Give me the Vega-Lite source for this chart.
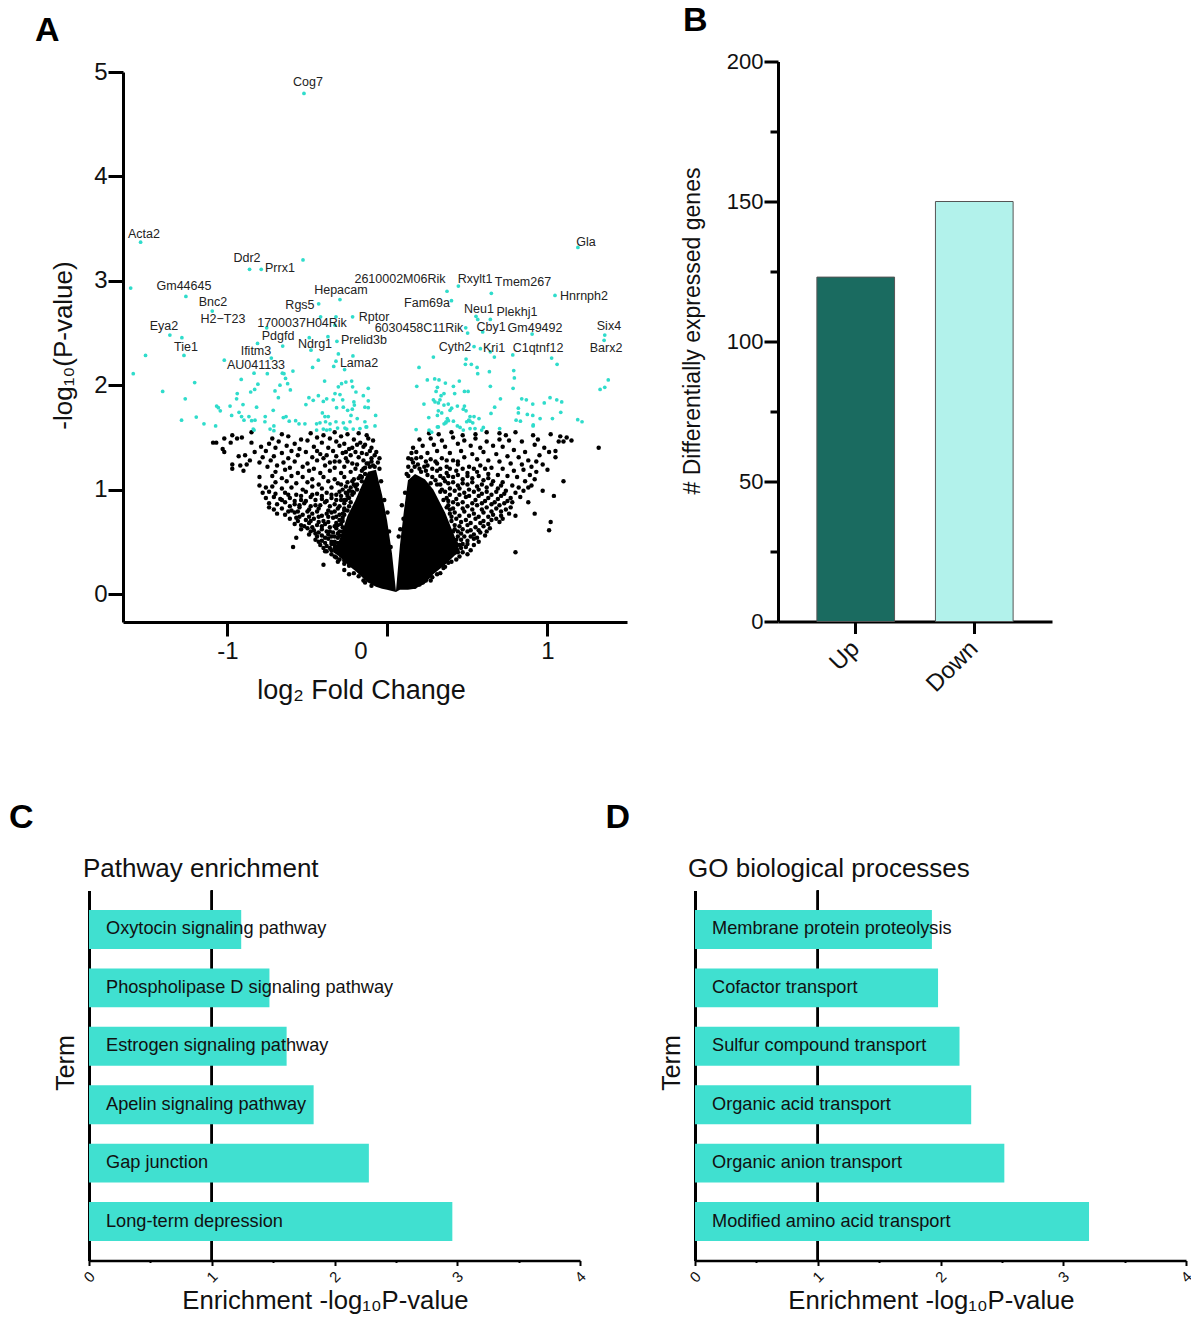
{"$schema":"https://vega.github.io/schema/vega-lite/v6.json","background":"white","padding":{"left":9,"top":3.5,"right":5,"bottom":0},
"config":{"font":"Liberation Sans","view":{"stroke":null},"axis":{"grid":false,"domainColor":"black","tickColor":"black","labelColor":"#111","titleColor":"#111","labelFont":"Liberation Sans","titleFont":"Liberation Sans","titleFontWeight":"normal"},"title":{"font":"Liberation Sans","color":"black"}},
"datasets":{
"core":[{"side":"L","x":-0.34,"top":0.42,"bottom":0.40},{"side":"L","x":-0.3,"top":0.52,"bottom":0.36},{"side":"L","x":-0.25,"top":0.75,"bottom":0.28},{"side":"L","x":-0.2,"top":0.9,"bottom":0.22},{"side":"L","x":-0.172,"top":1.0,"bottom":0.18},{"side":"L","x":-0.122,"top":1.17,"bottom":0.11},{"side":"L","x":-0.072,"top":1.19,"bottom":0.07},{"side":"L","x":-0.034,"top":0.95,"bottom":0.05},{"side":"L","x":-0.003,"top":0.71,"bottom":0.04},{"side":"L","x":0.028,"top":0.39,"bottom":0.03},{"side":"L","x":0.053,"top":0.03,"bottom":0.02},{"side":"R","x":0.053,"top":0.03,"bottom":0.02},{"side":"R","x":0.078,"top":0.47,"bottom":0.04},{"side":"R","x":0.103,"top":0.8,"bottom":0.04},{"side":"R","x":0.128,"top":1.09,"bottom":0.04},{"side":"R","x":0.172,"top":1.15,"bottom":0.05},{"side":"R","x":0.234,"top":1.1,"bottom":0.1},{"side":"R","x":0.286,"top":1.0,"bottom":0.19},{"side":"R","x":0.36,"top":0.78,"bottom":0.28},{"side":"R","x":0.42,"top":0.55,"bottom":0.37},{"side":"R","x":0.45,"top":0.42,"bottom":0.4}],
"black":[{"x":-0.85,"y":1.55},{"x":-0.66,"y":1.53},{"x":-0.48,"y":1.54},{"x":-0.4,"y":1.52},{"x":-0.33,"y":1.55},{"x":-0.25,"y":1.53},{"x":-0.18,"y":1.54},{"x":-0.13,"y":1.52},{"x":-1.02,"y":1.49},{"x":-0.97,"y":1.52},{"x":-0.94,"y":1.49},{"x":-0.91,"y":1.5},{"x":-0.72,"y":1.49},{"x":-0.62,"y":1.51},{"x":-0.54,"y":1.48},{"x":-0.44,"y":1.5},{"x":-0.36,"y":1.49},{"x":-0.29,"y":1.51},{"x":-0.21,"y":1.48},{"x":-0.12,"y":1.49},{"x":-1.09,"y":1.45},{"x":-1.07,"y":1.45},{"x":-0.98,"y":1.45},{"x":-0.85,"y":1.45},{"x":-0.74,"y":1.44},{"x":-0.68,"y":1.46},{"x":-0.58,"y":1.44},{"x":-0.5,"y":1.47},{"x":-0.41,"y":1.45},{"x":-0.32,"y":1.46},{"x":-0.27,"y":1.44},{"x":-0.17,"y":1.45},{"x":-0.09,"y":1.47},{"x":-1.03,"y":1.39},{"x":-1.02,"y":1.36},{"x":-0.79,"y":1.41},{"x":-0.7,"y":1.4},{"x":-0.63,"y":1.42},{"x":-0.55,"y":1.39},{"x":-0.46,"y":1.41},{"x":-0.37,"y":1.4},{"x":-0.3,"y":1.42},{"x":-0.24,"y":1.39},{"x":-0.15,"y":1.41},{"x":-0.1,"y":1.4},{"x":-0.83,"y":1.36},{"x":-0.76,"y":1.37},{"x":-0.66,"y":1.35},{"x":-0.6,"y":1.37},{"x":-0.51,"y":1.36},{"x":-0.42,"y":1.34},{"x":-0.34,"y":1.37},{"x":-0.28,"y":1.35},{"x":-0.2,"y":1.36},{"x":-0.13,"y":1.34},{"x":-0.07,"y":1.36},{"x":-0.93,"y":1.32},{"x":-0.89,"y":1.33},{"x":-0.78,"y":1.31},{"x":-0.71,"y":1.32},{"x":-0.62,"y":1.3},{"x":-0.56,"y":1.33},{"x":-0.47,"y":1.31},{"x":-0.4,"y":1.3},{"x":-0.32,"y":1.32},{"x":-0.26,"y":1.3},{"x":-0.18,"y":1.31},{"x":-0.1,"y":1.3},{"x":-0.86,"y":1.28},{"x":-0.8,"y":1.26},{"x":-0.73,"y":1.28},{"x":-0.65,"y":1.26},{"x":-0.58,"y":1.27},{"x":-0.5,"y":1.25},{"x":-0.44,"y":1.28},{"x":-0.36,"y":1.26},{"x":-0.3,"y":1.27},{"x":-0.22,"y":1.25},{"x":-0.97,"y":1.24},{"x":-0.97,"y":1.2},{"x":-0.92,"y":1.23},{"x":-0.88,"y":1.24},{"x":-0.75,"y":1.22},{"x":-0.69,"y":1.23},{"x":-0.61,"y":1.21},{"x":-0.53,"y":1.22},{"x":-0.46,"y":1.2},{"x":-0.39,"y":1.23},{"x":-0.33,"y":1.21},{"x":-0.27,"y":1.22},{"x":-0.2,"y":1.2},{"x":-0.9,"y":1.18},{"x":-0.7,"y":1.17},{"x":-0.64,"y":1.19},{"x":-0.56,"y":1.16},{"x":-0.49,"y":1.18},{"x":-0.42,"y":1.16},{"x":-0.36,"y":1.18},{"x":-0.29,"y":1.16},{"x":-0.23,"y":1.17},{"x":-0.16,"y":1.18},{"x":-0.8,"y":1.12},{"x":-0.72,"y":1.13},{"x":-0.66,"y":1.11},{"x":-0.6,"y":1.13},{"x":-0.53,"y":1.12},{"x":-0.47,"y":1.1},{"x":-0.4,"y":1.12},{"x":-0.33,"y":1.1},{"x":-0.27,"y":1.12},{"x":-0.21,"y":1.1},{"x":-0.17,"y":1.13},{"x":-0.7,"y":1.07},{"x":-0.63,"y":1.08},{"x":-0.57,"y":1.06},{"x":-0.5,"y":1.07},{"x":-0.43,"y":1.05},{"x":-0.37,"y":1.08},{"x":-0.31,"y":1.06},{"x":-0.25,"y":1.07},{"x":-0.19,"y":1.05},{"x":-0.8,"y":1.04},{"x":-0.76,"y":1.02},{"x":-0.72,"y":1.03},{"x":-0.66,"y":1.01},{"x":-0.6,"y":1.02},{"x":-0.53,"y":1.0},{"x":-0.47,"y":1.03},{"x":-0.41,"y":1.01},{"x":-0.35,"y":1.02},{"x":-0.28,"y":1.0},{"x":-0.23,"y":1.02},{"x":-0.78,"y":0.97},{"x":-0.74,"y":0.98},{"x":-0.7,"y":0.96},{"x":-0.64,"y":0.97},{"x":-0.57,"y":0.95},{"x":-0.51,"y":0.98},{"x":-0.44,"y":0.96},{"x":-0.38,"y":0.97},{"x":-0.32,"y":0.95},{"x":-0.26,"y":0.97},{"x":-0.22,"y":0.95},{"x":-0.76,"y":0.92},{"x":-0.71,"y":0.93},{"x":-0.67,"y":0.91},{"x":-0.61,"y":0.92},{"x":-0.54,"y":0.9},{"x":-0.48,"y":0.93},{"x":-0.41,"y":0.91},{"x":-0.35,"y":0.92},{"x":-0.29,"y":0.9},{"x":-0.24,"y":0.92},{"x":-0.74,"y":0.87},{"x":-0.69,"y":0.86},{"x":-0.64,"y":0.88},{"x":-0.58,"y":0.86},{"x":-0.52,"y":0.87},{"x":-0.45,"y":0.85},{"x":-0.39,"y":0.88},{"x":-0.33,"y":0.86},{"x":-0.27,"y":0.87},{"x":-0.74,"y":0.83},{"x":-0.71,"y":0.81},{"x":-0.66,"y":0.82},{"x":-0.6,"y":0.8},{"x":-0.55,"y":0.83},{"x":-0.49,"y":0.81},{"x":-0.43,"y":0.82},{"x":-0.37,"y":0.8},{"x":-0.31,"y":0.82},{"x":-0.27,"y":0.8},{"x":-0.69,"y":0.77},{"x":-0.64,"y":0.76},{"x":-0.58,"y":0.78},{"x":-0.53,"y":0.76},{"x":-0.47,"y":0.77},{"x":-0.41,"y":0.75},{"x":-0.35,"y":0.78},{"x":-0.3,"y":0.76},{"x":-0.61,"y":0.72},{"x":-0.57,"y":0.73},{"x":-0.51,"y":0.71},{"x":-0.46,"y":0.72},{"x":-0.4,"y":0.7},{"x":-0.34,"y":0.73},{"x":-0.3,"y":0.71},{"x":-0.58,"y":0.67},{"x":-0.54,"y":0.66},{"x":-0.49,"y":0.68},{"x":-0.44,"y":0.66},{"x":-0.39,"y":0.67},{"x":-0.33,"y":0.65},{"x":-0.54,"y":0.62},{"x":-0.5,"y":0.63},{"x":-0.46,"y":0.61},{"x":-0.41,"y":0.62},{"x":-0.36,"y":0.6},{"x":-0.32,"y":0.63},{"x":-0.49,"y":0.57},{"x":-0.45,"y":0.58},{"x":-0.41,"y":0.56},{"x":-0.37,"y":0.57},{"x":-0.33,"y":0.55},{"x":-0.57,"y":0.54},{"x":-0.59,"y":0.45},{"x":-0.45,"y":0.52},{"x":-0.41,"y":0.51},{"x":-0.37,"y":0.53},{"x":-0.33,"y":0.5},{"x":-0.42,"y":0.47},{"x":-0.38,"y":0.46},{"x":-0.35,"y":0.48},{"x":-0.31,"y":0.45},{"x":-0.39,"y":0.41},{"x":-0.35,"y":0.42},{"x":-0.31,"y":0.4},{"x":-0.33,"y":0.36},{"x":-0.3,"y":0.33},{"x":-0.27,"y":0.32},{"x":-0.4,"y":0.28},{"x":-0.27,"y":0.23},{"x":-0.14,"y":0.11},{"x":-0.1,"y":0.08},{"x":-0.24,"y":0.19},
{"x":-0.15,"y":1.28},{"x":-0.12,"y":1.25},{"x":-0.09,"y":1.23},{"x":-0.06,"y":1.26},{"x":-0.16,"y":1.35},{"x":-0.11,"y":1.37},{"x":-0.08,"y":1.33},{"x":-0.14,"y":1.43},{"x":-0.19,"y":1.43},{"x":-0.22,"y":1.4},{"x":-0.25,"y":1.27},{"x":-0.19,"y":1.24},{"x":-0.14,"y":1.21},{"x":-0.23,"y":1.33},{"x":-0.26,"y":1.36},{"x":-0.33,"y":1.27},{"x":-0.38,"y":1.33},{"x":-0.44,"y":1.37},{"x":-0.29,"y":1.05},{"x":-0.22,"y":1.08},{"x":-0.26,"y":1.03},{"x":-0.2,"y":1.03},{"x":-0.3,"y":0.98},{"x":-0.24,"y":0.99},{"x":-0.62,"y":0.95},{"x":-0.54,"y":0.94},{"x":-0.47,"y":0.95},{"x":-0.41,"y":0.94},{"x":-0.35,"y":0.95},{"x":-0.29,"y":0.94},{"x":-0.25,"y":0.94},{"x":-0.66,"y":0.9},{"x":-0.58,"y":0.89},{"x":-0.51,"y":0.89},{"x":-0.45,"y":0.9},{"x":-0.38,"y":0.89},{"x":-0.32,"y":0.9},{"x":-0.27,"y":0.9},{"x":-0.61,"y":0.84},{"x":-0.55,"y":0.85},{"x":-0.48,"y":0.84},{"x":-0.42,"y":0.85},{"x":-0.36,"y":0.84},{"x":-0.3,"y":0.84},{"x":-0.62,"y":0.79},{"x":-0.56,"y":0.79},{"x":-0.5,"y":0.79},{"x":-0.44,"y":0.79},{"x":-0.38,"y":0.77},{"x":-0.33,"y":0.79},{"x":-0.28,"y":0.77},{"x":-0.55,"y":0.74},{"x":-0.49,"y":0.74},{"x":-0.43,"y":0.74},{"x":-0.37,"y":0.74},{"x":-0.32,"y":0.74},{"x":-0.28,"y":0.73},{"x":-0.56,"y":0.7},{"x":-0.48,"y":0.7},{"x":-0.43,"y":0.69},{"x":-0.37,"y":0.69},{"x":-0.32,"y":0.68},{"x":-0.28,"y":0.7},{"x":-0.52,"y":0.65},{"x":-0.47,"y":0.64},{"x":-0.41,"y":0.65},{"x":-0.36,"y":0.64},{"x":-0.31,"y":0.66},{"x":-0.28,"y":0.64},{"x":-0.48,"y":0.6},{"x":-0.43,"y":0.59},{"x":-0.38,"y":0.6},{"x":-0.34,"y":0.59},{"x":-0.3,"y":0.6},{"x":-0.44,"y":0.55},{"x":-0.39,"y":0.54},{"x":-0.35,"y":0.55},{"x":-0.31,"y":0.54},{"x":-0.28,"y":0.56},{"x":-0.43,"y":0.5},{"x":-0.39,"y":0.49},{"x":-0.35,"y":0.5},{"x":-0.31,"y":0.49},{"x":-0.4,"y":0.44},{"x":-0.36,"y":0.44},{"x":-0.33,"y":0.44},{"x":-0.38,"y":0.41},{"x":-0.35,"y":0.38},{"x":-0.32,"y":0.35},{"x":-0.29,"y":0.37},{"x":-0.31,"y":0.31},{"x":-0.27,"y":0.29},{"x":-0.24,"y":0.27},{"x":-0.21,"y":0.2},{"x":-0.18,"y":0.17},{"x":-0.15,"y":0.13},
{"x":-0.27,"y":0.82},{"x":-0.24,"y":0.84},{"x":-0.21,"y":0.97},{"x":-0.19,"y":1.0},{"x":-0.16,"y":1.08},{"x":-0.14,"y":1.15},{"x":-0.11,"y":1.22},{"x":-0.08,"y":1.22},{"x":-0.05,"y":1.2},{"x":-0.04,"y":1.08},{"x":-0.02,"y":0.9},{"x":0,"y":0.78},{"x":0.01,"y":0.6},{"x":0.02,"y":0.45},{"x":-0.25,"y":0.8},{"x":-0.28,"y":0.6},{"x":-0.3,"y":0.56},{"x":-0.33,"y":0.47},{"x":-0.26,"y":0.9},{"x":-0.23,"y":0.88},{"x":-0.21,"y":1.05},{"x":-0.18,"y":1.11},{"x":-0.15,"y":1.2},{"x":-0.13,"y":1.25},{"x":-0.1,"y":1.27},{"x":-0.05,"y":1.3},{"x":-0.16,"y":1.12},{"x":-0.22,"y":0.98},{"x":-0.25,"y":0.96},{"x":-0.27,"y":0.76},{"x":-0.29,"y":0.67},{"x":-0.31,"y":0.58},
{"x":0.26,"y":1.54},{"x":0.32,"y":1.53},{"x":0.4,"y":1.55},{"x":0.47,"y":1.52},{"x":0.55,"y":1.53},{"x":0.62,"y":1.55},{"x":0.7,"y":1.54},{"x":0.74,"y":1.52},{"x":0.8,"y":1.55},{"x":0.91,"y":1.52},{"x":0.94,"y":1.48},{"x":1.02,"y":1.53},{"x":1.08,"y":1.51},{"x":1.12,"y":1.5},{"x":1.15,"y":1.47},{"x":1.07,"y":1.46},{"x":1.32,"y":1.4},{"x":0.2,"y":1.48},{"x":0.27,"y":1.49},{"x":0.34,"y":1.47},{"x":0.41,"y":1.5},{"x":0.48,"y":1.47},{"x":0.55,"y":1.49},{"x":0.62,"y":1.46},{"x":0.7,"y":1.48},{"x":0.76,"y":1.47},{"x":0.84,"y":1.46},{"x":0.92,"y":1.43},{"x":0.98,"y":1.4},{"x":1.05,"y":1.37},{"x":1.1,"y":1.46},{"x":0.16,"y":1.4},{"x":0.22,"y":1.42},{"x":0.29,"y":1.43},{"x":0.36,"y":1.41},{"x":0.44,"y":1.44},{"x":0.52,"y":1.42},{"x":0.58,"y":1.4},{"x":0.66,"y":1.42},{"x":0.72,"y":1.41},{"x":0.79,"y":1.38},{"x":0.86,"y":1.36},{"x":0.95,"y":1.33},{"x":1.01,"y":1.36},{"x":1.05,"y":1.31},{"x":0.18,"y":1.36},{"x":0.25,"y":1.35},{"x":0.31,"y":1.37},{"x":0.39,"y":1.35},{"x":0.46,"y":1.37},{"x":0.53,"y":1.34},{"x":0.6,"y":1.36},{"x":0.68,"y":1.34},{"x":0.75,"y":1.32},{"x":0.82,"y":1.31},{"x":0.88,"y":1.28},{"x":0.93,"y":1.27},{"x":0.15,"y":1.29},{"x":0.21,"y":1.31},{"x":0.27,"y":1.29},{"x":0.34,"y":1.3},{"x":0.41,"y":1.28},{"x":0.48,"y":1.31},{"x":0.56,"y":1.29},{"x":0.63,"y":1.28},{"x":0.7,"y":1.27},{"x":0.77,"y":1.25},{"x":0.84,"y":1.24},{"x":0.9,"y":1.22},{"x":0.97,"y":1.24},{"x":1.0,"y":1.19},{"x":0.13,"y":1.22},{"x":0.19,"y":1.24},{"x":0.25,"y":1.23},{"x":0.31,"y":1.25},{"x":0.37,"y":1.22},{"x":0.44,"y":1.24},{"x":0.51,"y":1.22},{"x":0.58,"y":1.23},{"x":0.65,"y":1.21},{"x":0.72,"y":1.2},{"x":0.79,"y":1.18},{"x":0.85,"y":1.19},{"x":0.89,"y":1.14},{"x":0.93,"y":1.17},{"x":0.31,"y":1.18},{"x":0.37,"y":1.16},{"x":0.43,"y":1.18},{"x":0.5,"y":1.16},{"x":0.56,"y":1.17},{"x":0.63,"y":1.15},{"x":0.69,"y":1.14},{"x":0.75,"y":1.13},{"x":0.81,"y":1.12},{"x":0.86,"y":1.08},{"x":0.92,"y":1.1},{"x":0.35,"y":1.11},{"x":0.41,"y":1.12},{"x":0.47,"y":1.1},{"x":0.53,"y":1.11},{"x":0.6,"y":1.09},{"x":0.66,"y":1.08},{"x":0.72,"y":1.07},{"x":0.78,"y":1.04},{"x":0.82,"y":1.02},{"x":0.88,"y":1.02},{"x":0.9,"y":1.04},{"x":0.33,"y":1.05},{"x":0.38,"y":1.06},{"x":0.44,"y":1.04},{"x":0.5,"y":1.05},{"x":0.56,"y":1.03},{"x":0.62,"y":1.02},{"x":0.69,"y":1.01},{"x":0.74,"y":0.99},{"x":0.8,"y":0.97},{"x":0.85,"y":0.99},{"x":0.36,"y":0.98},{"x":0.42,"y":0.99},{"x":0.48,"y":0.97},{"x":0.54,"y":0.98},{"x":0.59,"y":0.96},{"x":0.65,"y":0.95},{"x":0.71,"y":0.94},{"x":0.77,"y":0.92},{"x":0.83,"y":0.93},{"x":0.37,"y":0.92},{"x":0.43,"y":0.91},{"x":0.49,"y":0.93},{"x":0.55,"y":0.9},{"x":0.61,"y":0.89},{"x":0.67,"y":0.88},{"x":0.73,"y":0.87},{"x":0.78,"y":0.88},{"x":0.38,"y":0.85},{"x":0.44,"y":0.86},{"x":0.5,"y":0.84},{"x":0.56,"y":0.85},{"x":0.62,"y":0.83},{"x":0.68,"y":0.82},{"x":0.74,"y":0.81},{"x":0.77,"y":0.83},{"x":0.42,"y":0.78},{"x":0.48,"y":0.79},{"x":0.54,"y":0.77},{"x":0.6,"y":0.78},{"x":0.66,"y":0.76},{"x":0.71,"y":0.75},{"x":0.76,"y":0.77},{"x":0.43,"y":0.72},{"x":0.49,"y":0.71},{"x":0.55,"y":0.72},{"x":0.6,"y":0.7},{"x":0.65,"y":0.71},{"x":0.7,"y":0.69},{"x":0.45,"y":0.65},{"x":0.5,"y":0.66},{"x":0.55,"y":0.64},{"x":0.6,"y":0.65},{"x":0.64,"y":0.63},{"x":0.46,"y":0.58},{"x":0.5,"y":0.6},{"x":0.54,"y":0.57},{"x":0.58,"y":0.59},{"x":0.61,"y":0.56},{"x":0.46,"y":0.52},{"x":0.5,"y":0.51},{"x":0.54,"y":0.53},{"x":0.57,"y":0.5},{"x":0.46,"y":0.44},{"x":0.49,"y":0.45},{"x":0.52,"y":0.42},{"x":0.5,"y":0.38},{"x":0.45,"y":0.36},{"x":0.4,"y":0.31},{"x":0.36,"y":0.26},{"x":0.33,"y":0.2},{"x":0.28,"y":0.16},{"x":0.2,"y":0.09},{"x":0.24,"y":0.13},{"x":1.1,"y":1.08},{"x":0.97,"y":0.99},{"x":1.04,"y":0.94},{"x":0.88,"y":0.88},{"x":0.92,"y":0.77},{"x":1.02,"y":0.69},{"x":1.01,"y":0.61},{"x":0.8,"y":0.75},{"x":0.8,"y":0.4},
{"x":0.18,"y":1.3},{"x":0.24,"y":1.27},{"x":0.3,"y":1.27},{"x":0.37,"y":1.28},{"x":0.44,"y":1.27},{"x":0.2,"y":1.2},{"x":0.24,"y":1.18},{"x":0.28,"y":1.2},{"x":0.33,"y":1.2},{"x":0.39,"y":1.2},{"x":0.47,"y":1.2},{"x":0.54,"y":1.2},{"x":0.61,"y":1.2},{"x":0.33,"y":1.13},{"x":0.38,"y":1.13},{"x":0.44,"y":1.14},{"x":0.5,"y":1.13},{"x":0.57,"y":1.13},{"x":0.63,"y":1.11},{"x":0.36,"y":1.08},{"x":0.41,"y":1.07},{"x":0.47,"y":1.06},{"x":0.53,"y":1.07},{"x":0.59,"y":1.05},{"x":0.65,"y":1.05},{"x":0.71,"y":1.04},{"x":0.39,"y":1.01},{"x":0.45,"y":1.01},{"x":0.51,"y":1.0},{"x":0.57,"y":1.0},{"x":0.62,"y":0.98},{"x":0.68,"y":0.98},{"x":0.73,"y":0.96},{"x":0.39,"y":0.95},{"x":0.45,"y":0.95},{"x":0.51,"y":0.94},{"x":0.57,"y":0.94},{"x":0.63,"y":0.92},{"x":0.69,"y":0.91},{"x":0.75,"y":0.89},{"x":0.41,"y":0.88},{"x":0.47,"y":0.88},{"x":0.53,"y":0.87},{"x":0.59,"y":0.87},{"x":0.65,"y":0.86},{"x":0.7,"y":0.85},{"x":0.41,"y":0.82},{"x":0.47,"y":0.82},{"x":0.53,"y":0.81},{"x":0.59,"y":0.81},{"x":0.65,"y":0.79},{"x":0.71,"y":0.79},{"x":0.39,"y":0.77},{"x":0.45,"y":0.75},{"x":0.51,"y":0.75},{"x":0.57,"y":0.74},{"x":0.63,"y":0.74},{"x":0.68,"y":0.72},{"x":0.72,"y":0.72},{"x":0.4,"y":0.7},{"x":0.46,"y":0.69},{"x":0.52,"y":0.68},{"x":0.58,"y":0.68},{"x":0.63,"y":0.67},{"x":0.42,"y":0.62},{"x":0.47,"y":0.62},{"x":0.52,"y":0.61},{"x":0.57,"y":0.61},{"x":0.62,"y":0.6},{"x":0.44,"y":0.55},{"x":0.48,"y":0.55},{"x":0.52,"y":0.55},{"x":0.56,"y":0.54},{"x":0.43,"y":0.48},{"x":0.47,"y":0.48},{"x":0.5,"y":0.48},{"x":0.54,"y":0.47},{"x":0.44,"y":0.4},{"x":0.47,"y":0.4},{"x":0.43,"y":0.33},{"x":0.38,"y":0.3},{"x":0.35,"y":0.25},{"x":0.31,"y":0.19},{"x":0.27,"y":0.13},{"x":0.22,"y":0.11},{"x":0.17,"y":0.07},
{"x":0.07,"y":0.55},{"x":0.09,"y":0.85},{"x":0.11,"y":0.97},{"x":0.13,"y":1.13},{"x":0.15,"y":1.18},{"x":0.17,"y":1.22},{"x":0.21,"y":1.17},{"x":0.25,"y":1.14},{"x":0.28,"y":1.12},{"x":0.31,"y":1.05},{"x":0.33,"y":0.98},{"x":0.35,"y":0.9},{"x":0.37,"y":0.83},{"x":0.4,"y":0.74},{"x":0.42,"y":0.66},{"x":0.44,"y":0.6},{"x":0.3,"y":1.09},{"x":0.27,"y":1.06},{"x":0.34,"y":1.0},{"x":0.38,"y":0.89},{"x":0.39,"y":0.81},{"x":0.41,"y":0.6},{"x":0.43,"y":0.52},{"x":0.45,"y":0.47},{"x":0.16,"y":1.26},{"x":0.13,"y":1.3},{"x":0.12,"y":1.15},{"x":0.15,"y":1.35},{"x":0.23,"y":1.22},{"x":0.1,"y":0.72},{"x":0.08,"y":0.62}],
"teal":[{"x":1.19,"y":3.32},{"x":0.372,"y":2.9},{"x":0.443,"y":2.95},{"x":0.649,"y":2.88},{"x":1.047,"y":2.86},{"x":0.4,"y":2.81},{"x":0.553,"y":2.66},{"x":0.564,"y":2.63},{"x":0.643,"y":2.63},{"x":0.489,"y":2.55},{"x":0.501,"y":2.5},{"x":0.595,"y":2.51},{"x":0.904,"y":2.49},{"x":1.358,"y":2.48},{"x":1.354,"y":2.43},{"x":0.541,"y":2.37},{"x":0.581,"y":2.35},{"x":0.643,"y":2.32},{"x":0.668,"y":2.27},{"x":0.783,"y":2.29},{"x":0.287,"y":2.27},{"x":1.026,"y":2.26},{"x":1.06,"y":2.2},{"x":0.491,"y":2.25},{"x":0.487,"y":2.2},{"x":0.524,"y":2.2},{"x":0.56,"y":2.17},{"x":0.197,"y":2.17},{"x":0.637,"y":2.13},{"x":0.789,"y":2.14},{"x":0.564,"y":2.11},{"x":0.793,"y":2.07},{"x":0.183,"y":1.99},{"x":0.249,"y":2.05},{"x":0.295,"y":2.06},{"x":0.322,"y":2.05},{"x":0.362,"y":2.02},{"x":0.449,"y":2.04},{"x":0.312,"y":1.98},{"x":0.412,"y":1.99},{"x":0.643,"y":1.99},{"x":0.785,"y":1.97},{"x":1.38,"y":2.05},{"x":1.358,"y":1.98},{"x":1.329,"y":1.96},{"x":0.304,"y":1.94},{"x":0.353,"y":1.92},{"x":0.42,"y":1.92},{"x":0.481,"y":1.94},{"x":0.504,"y":1.94},{"x":0.706,"y":1.87},{"x":0.839,"y":1.87},{"x":0.868,"y":1.86},{"x":1.016,"y":1.88},{"x":1.058,"y":1.86},{"x":1.089,"y":1.84},{"x":0.98,"y":1.83},{"x":0.908,"y":1.82},{"x":0.287,"y":1.86},{"x":0.297,"y":1.84},{"x":0.328,"y":1.86},{"x":0.335,"y":1.9},{"x":0.318,"y":1.83},{"x":0.228,"y":1.82},{"x":0.353,"y":1.81},{"x":0.38,"y":1.82},{"x":0.401,"y":1.78},{"x":0.391,"y":1.76},{"x":0.437,"y":1.8},{"x":0.481,"y":1.8},{"x":0.474,"y":1.77},{"x":0.491,"y":1.755},{"x":0.67,"y":1.79},{"x":0.818,"y":1.78},{"x":0.818,"y":1.735},{"x":0.874,"y":1.72},{"x":0.908,"y":1.71},{"x":1.083,"y":1.74},{"x":0.954,"y":1.68},{"x":1.031,"y":1.68},{"x":0.647,"y":1.73},{"x":0.258,"y":1.69},{"x":0.318,"y":1.755},{"x":0.339,"y":1.735},{"x":0.312,"y":1.71},{"x":0.541,"y":1.7},{"x":0.572,"y":1.68},{"x":0.516,"y":1.7},{"x":0.508,"y":1.665},{"x":0.495,"y":1.65},{"x":0.516,"y":1.655},{"x":0.533,"y":1.64},{"x":0.374,"y":1.68},{"x":0.366,"y":1.65},{"x":0.354,"y":1.63},{"x":0.412,"y":1.655},{"x":0.381,"y":1.66},{"x":0.437,"y":1.61},{"x":0.454,"y":1.595},{"x":0.474,"y":1.57},{"x":0.516,"y":1.585},{"x":0.547,"y":1.585},{"x":0.599,"y":1.595},{"x":0.589,"y":1.57},{"x":0.312,"y":1.6},{"x":0.179,"y":1.575},{"x":0.26,"y":1.57},{"x":0.276,"y":1.55},{"x":0.701,"y":1.585},{"x":0.804,"y":1.665},{"x":0.831,"y":1.655},{"x":0.91,"y":1.61},{"x":1.189,"y":1.67},{"x":1.216,"y":1.65},{"x":0.318,"y":1.6},{"x":0.365,"y":1.64},{"x":0.911,"y":1.62},
{"x":-0.522,"y":4.795},{"x":-1.543,"y":3.37},{"x":-0.528,"y":3.2},{"x":-0.862,"y":3.11},{"x":-0.789,"y":3.11},{"x":-1.605,"y":2.93},{"x":-1.26,"y":2.85},{"x":-0.297,"y":2.82},{"x":-0.43,"y":2.78},{"x":-1.095,"y":2.71},{"x":-0.218,"y":2.655},{"x":-0.418,"y":2.655},{"x":-0.322,"y":2.655},{"x":-0.328,"y":2.575},{"x":-0.755,"y":2.55},{"x":-1.36,"y":2.48},{"x":-1.285,"y":2.455},{"x":-0.489,"y":2.455},{"x":-0.372,"y":2.465},{"x":-0.316,"y":2.42},{"x":-0.812,"y":2.4},{"x":-0.655,"y":2.375},{"x":-0.478,"y":2.335},{"x":-0.307,"y":2.3},{"x":-1.512,"y":2.285},{"x":-1.272,"y":2.285},{"x":-0.726,"y":2.26},{"x":-0.216,"y":2.28},{"x":-0.432,"y":2.24},{"x":-1.02,"y":2.24},{"x":-0.322,"y":2.23},{"x":-0.468,"y":2.17},{"x":-0.336,"y":2.18},{"x":-0.268,"y":2.15},{"x":-0.591,"y":2.135},{"x":-0.834,"y":2.115},{"x":-0.751,"y":2.11},{"x":-0.657,"y":2.115},{"x":-0.647,"y":2.11},{"x":-1.589,"y":2.11},{"x":-0.637,"y":2.065},{"x":-0.914,"y":2.055},{"x":-1.205,"y":2.025},{"x":-0.393,"y":2.04},{"x":-0.224,"y":2.04},{"x":-0.26,"y":2.03},{"x":-0.287,"y":2.015},{"x":-0.307,"y":1.985},{"x":-0.81,"y":2.01},{"x":-0.672,"y":2.0},{"x":-0.624,"y":2.015},{"x":-1.405,"y":1.94},{"x":-0.703,"y":1.945},{"x":-0.607,"y":1.955},{"x":-0.83,"y":1.96},{"x":-0.855,"y":1.935},{"x":-0.939,"y":1.92},{"x":-0.218,"y":1.985},{"x":-0.197,"y":1.935},{"x":-0.151,"y":1.9},{"x":-0.12,"y":1.97},{"x":-1.264,"y":1.87},{"x":-0.943,"y":1.87},{"x":-0.682,"y":1.88},{"x":-0.491,"y":1.88},{"x":-0.464,"y":1.855},{"x":-0.432,"y":1.9},{"x":-0.51,"y":1.815},{"x":-0.401,"y":1.845},{"x":-0.38,"y":1.87},{"x":-0.339,"y":1.86},{"x":-0.328,"y":1.92},{"x":-0.297,"y":1.91},{"x":-0.28,"y":1.86},{"x":-0.21,"y":1.84},{"x":-0.207,"y":1.81},{"x":-0.12,"y":1.85},{"x":-0.141,"y":1.79},{"x":-0.12,"y":1.785},{"x":-0.318,"y":1.785},{"x":-0.276,"y":1.79},{"x":-0.249,"y":1.76},{"x":-0.22,"y":1.77},{"x":-0.228,"y":1.71},{"x":-0.984,"y":1.8},{"x":-0.903,"y":1.815},{"x":-0.818,"y":1.79},{"x":-1.068,"y":1.8},{"x":-1.057,"y":1.785},{"x":-1.045,"y":1.755},{"x":-0.714,"y":1.76},{"x":-0.974,"y":1.71},{"x":-0.928,"y":1.74},{"x":-0.912,"y":1.7},{"x":-0.897,"y":1.665},{"x":-0.866,"y":1.7},{"x":-0.849,"y":1.66},{"x":-0.828,"y":1.665},{"x":-0.764,"y":1.7},{"x":-0.766,"y":1.65},{"x":-0.651,"y":1.69},{"x":-0.634,"y":1.7},{"x":-1.287,"y":1.665},{"x":-1.195,"y":1.695},{"x":-1.147,"y":1.63},{"x":-1.074,"y":1.61},{"x":-0.614,"y":1.655},{"x":-0.574,"y":1.66},{"x":-0.553,"y":1.63},{"x":-0.516,"y":1.63},{"x":-0.407,"y":1.735},{"x":-0.391,"y":1.7},{"x":-0.37,"y":1.7},{"x":-0.443,"y":1.63},{"x":-0.422,"y":1.64},{"x":-0.387,"y":1.65},{"x":-0.359,"y":1.63},{"x":-0.322,"y":1.65},{"x":-0.276,"y":1.64},{"x":-0.234,"y":1.65},{"x":-0.189,"y":1.68},{"x":-0.141,"y":1.65},{"x":-0.074,"y":1.71},{"x":-0.834,"y":1.57},{"x":-0.734,"y":1.58},{"x":-0.71,"y":1.61},{"x":-0.443,"y":1.57},{"x":-0.401,"y":1.58},{"x":-0.359,"y":1.575},{"x":-0.312,"y":1.59},{"x":-0.266,"y":1.59},{"x":-0.214,"y":1.58},{"x":-0.172,"y":1.585},{"x":-0.134,"y":1.6},{"x":-0.078,"y":1.61},{"x":-0.839,"y":1.58},{"x":-0.71,"y":1.565},{"x":-0.38,"y":1.57},{"x":-0.255,"y":1.58},{"x":-0.13,"y":1.6}],
"genes":[{"gene":"Cog7","x":-0.497,"y":4.9},{"gene":"Acta2","x":-1.522,"y":3.45},{"gene":"Gla","x":1.241,"y":3.37},{"gene":"Ddr2","x":-0.878,"y":3.22},{"gene":"Prrx1","x":-0.672,"y":3.12},{"gene":"Gm44645","x":-1.272,"y":2.95},{"gene":"2610002M06Rik","x":0.078,"y":3.02},{"gene":"Rxylt1","x":0.547,"y":3.02},{"gene":"Tmem267","x":0.847,"y":2.99},{"gene":"Hepacam","x":-0.291,"y":2.91},{"gene":"Hnrnph2","x":1.228,"y":2.85},{"gene":"Bnc2","x":-1.091,"y":2.8},{"gene":"Rgs5","x":-0.547,"y":2.77},{"gene":"Fam69a","x":0.247,"y":2.79},{"gene":"Neu1","x":0.572,"y":2.73},{"gene":"Plekhj1","x":0.809,"y":2.7},{"gene":"H2−T23","x":-1.028,"y":2.63},{"gene":"Rptor","x":-0.084,"y":2.65},{"gene":"1700037H04Rik","x":-0.534,"y":2.6},{"gene":"Eya2","x":-1.397,"y":2.57},{"gene":"6030458C11Rik","x":0.197,"y":2.55},{"gene":"Cby1","x":0.647,"y":2.56},{"gene":"Gm49492","x":0.922,"y":2.55},{"gene":"Six4","x":1.384,"y":2.57},{"gene":"Pdgfd","x":-0.684,"y":2.47},{"gene":"Prelid3b","x":-0.147,"y":2.43},{"gene":"Ndrg1","x":-0.453,"y":2.39},{"gene":"Tie1","x":-1.259,"y":2.37},{"gene":"Cyth2","x":0.422,"y":2.37},{"gene":"Kri1","x":0.666,"y":2.36},{"gene":"C1qtnf12","x":0.941,"y":2.36},{"gene":"Barx2","x":1.366,"y":2.36},{"gene":"Ifitm3","x":-0.822,"y":2.33},{"gene":"AU041133","x":-0.822,"y":2.19},{"gene":"Lama2","x":-0.178,"y":2.21}]
},
"align":"none","spacing":97,
"vconcat":[
{"align":"none","spacing":53,"hconcat":[
 {"align":"none","spacing":-58,"hconcat":[
  {"width":1,"height":1,"data":{"values":[{"v":0}]},"mark":{"type":"point","opacity":0},"encoding":{}},
  {"align":"none","spacing":-52.5,"vconcat":[
   {"width":1,"height":1,"data":{"values":[{"v":0}]},"mark":{"type":"point","opacity":0},"encoding":{}},
   {"width":504,"height":550,"title":{"text":"A","fontSize":34,"fontWeight":"bold","anchor":"start","frame":"group","dx":-88,"offset":12.5},
   "layer":[
    {"data":{"name":"core"},"mark":{"type":"area","color":"black"},"encoding":{"x":{"field":"x","type":"quantitative","scale":{"domain":[-1.653,1.497],"nice":false,"zero":false},"axis":{"values":[-1,0,1],"labelExpr":"'' + datum.value","domainWidth":3,"tickWidth":3,"tickSize":14,"labelFontSize":24,"labelPadding":3,"labelOffset":{"condition":{"test":"datum.value === 0","value":-27},"value":0},"title":"log₂ Fold Change","titleFontSize":27,"titleX":238,"titleY":55}},"y":{"field":"top","type":"quantitative","scale":{"domain":[-0.268,5],"nice":false,"zero":false},"axis":{"values":[0,1,2,3,4,5],"format":"d","domainWidth":3,"tickWidth":3,"tickSize":15,"labelFontSize":24,"labelPadding":1,"title":"-log₁₀(P-value)","titleFontSize":26,"titleX":-47,"titleY":273}},"y2":{"field":"bottom"},"detail":{"field":"side"}}},
    {"data":{"name":"black"},"mark":{"type":"circle","color":"black","size":20,"opacity":1},"encoding":{"x":{"field":"x","type":"quantitative"},"y":{"field":"y","type":"quantitative"}}},
    {"data":{"name":"teal"},"mark":{"type":"circle","color":"#2FDCCB","size":14,"opacity":1},"encoding":{"x":{"field":"x","type":"quantitative"},"y":{"field":"y","type":"quantitative"}}},
    {"data":{"name":"genes"},"mark":{"type":"text","fontSize":12.5,"color":"#222","align":"center","baseline":"middle"},"encoding":{"x":{"field":"x","type":"quantitative"},"y":{"field":"y","type":"quantitative"},"text":{"field":"gene"}}}
   ]}
  ]}
 ]},
 {"width":274,"height":560,"title":{"text":"B","fontSize":34,"fontWeight":"bold","anchor":"start","frame":"group","dx":-95,"offset":12.5},
  "data":{"values":[{"group":"Up","count":123},{"group":"Down","count":150}]},
  "mark":{"type":"bar","stroke":"#555","strokeWidth":1},
  "encoding":{"x":{"field":"group","type":"nominal","sort":null,"scale":{"paddingInner":0.345,"paddingOuter":0.328},"axis":{"title":null,"labelAngle":-45,"labelAlign":"right","labelBaseline":"middle","labelFontSize":24,"labelPadding":11,"domainWidth":3,"tickWidth":3,"tickSize":12}},
  "y":{"field":"count","type":"quantitative","scale":{"domain":[0,200],"nice":false},"axis":{"values":[0,25,50,75,100,125,150,175,200],"labelExpr":"datum.value % 50 === 0 ? datum.label : ''","domainWidth":3,"tickWidth":3,"tickSize":{"condition":{"test":"datum.value % 50 === 0","value":14},"value":8},"labelFontSize":22,"labelPadding":1,"title":"# Differentially expressed genes","titleFontSize":23,"titleX":-74,"titleY":269}},
  "color":{"field":"group","type":"nominal","sort":null,"legend":null,"scale":{"domain":["Up","Down"],"range":["#1A6B60","#B2F2EB"]}}}}
]},
{"align":"none","spacing":16,"hconcat":[
 {"align":"none","title":{"text":"C","fontSize":34,"fontWeight":"bold","anchor":"start","dx":-44,"offset":20.5},"hconcat":[
  {"width":491,"height":370,"title":{"text":"Pathway enrichment","fontSize":26,"fontWeight":"normal","anchor":"start","frame":"group","dx":-6,"offset":8,"color":"#111"},
  "data":{"values":[{"term":"Oxytocin signaling pathway","value":1.24},{"term":"Phospholipase D signaling pathway","value":1.47},{"term":"Estrogen signaling pathway","value":1.61},{"term":"Apelin signaling pathway","value":1.83},{"term":"Gap junction","value":2.28},{"term":"Long-term depression","value":2.96}]},
  "layer":[
   {"mark":{"type":"rule","color":"black","strokeWidth":2},"encoding":{"x":{"datum":1,"type":"quantitative","scale":{"domain":[0,4],"nice":false},"axis":{"values":[0,0.5,1,1.5,2,2.5,3,3.5,4],"labelExpr":"datum.value % 1 === 0 ? '' + datum.value : ''","labelAngle":-45,"labelAlign":"center","labelBaseline":"middle","labelFontSize":15,"labelPadding":11,"domainWidth":2.5,"tickWidth":2,"tickSize":{"condition":{"test":"datum.value % 1 === 0","value":5},"value":2},"title":"Enrichment -log₁₀P-value","titleFontSize":25.7,"titleX":236,"titleY":28}}}},
   {"mark":{"type":"bar","color":"#40E0D0"},"encoding":{"x":{"field":"value","type":"quantitative"},"y":{"field":"term","type":"nominal","sort":null,"scale":{"paddingInner":0.334,"paddingOuter":0.334},"axis":{"labels":false,"ticks":false,"domainWidth":3,"title":"Term","titleFontSize":25,"titleX":-11,"titleY":172}}}},
   {"mark":{"type":"text","align":"left","dx":17,"fontSize":18.2,"color":"#111"},"encoding":{"x":{"datum":0,"type":"quantitative"},"y":{"field":"term","type":"nominal","sort":null},"text":{"field":"term"}}}
  ]}
 ]},
 {"align":"none","title":{"text":"D","fontSize":34,"fontWeight":"bold","anchor":"start","dx":-53.5,"offset":20.5},"hconcat":[
  {"width":491,"height":370,"title":{"text":"GO biological processes","fontSize":26,"fontWeight":"normal","anchor":"start","frame":"group","dx":-7,"offset":8,"color":"#111"},
  "data":{"values":[{"term":"Membrane protein proteolysis","value":1.93},{"term":"Cofactor transport","value":1.98},{"term":"Sulfur compound transport","value":2.155},{"term":"Organic acid transport","value":2.25},{"term":"Organic anion transport","value":2.52},{"term":"Modified amino acid transport","value":3.21}]},
  "layer":[
   {"mark":{"type":"rule","color":"black","strokeWidth":2},"encoding":{"x":{"datum":1,"type":"quantitative","scale":{"domain":[0,4],"nice":false},"axis":{"values":[0,0.5,1,1.5,2,2.5,3,3.5,4],"labelExpr":"datum.value % 1 === 0 ? '' + datum.value : ''","labelAngle":-45,"labelAlign":"center","labelBaseline":"middle","labelFontSize":15,"labelPadding":11,"domainWidth":2.5,"tickWidth":2,"tickSize":{"condition":{"test":"datum.value % 1 === 0","value":5},"value":2},"title":"Enrichment -log₁₀P-value","titleFontSize":25.7,"titleX":236,"titleY":28}}}},
   {"mark":{"type":"bar","color":"#40E0D0"},"encoding":{"x":{"field":"value","type":"quantitative"},"y":{"field":"term","type":"nominal","sort":null,"scale":{"paddingInner":0.334,"paddingOuter":0.334},"axis":{"labels":false,"ticks":false,"domainWidth":3,"title":"Term","titleFontSize":25,"titleX":-11,"titleY":172}}}},
   {"mark":{"type":"text","align":"left","dx":17,"fontSize":18.2,"color":"#111"},"encoding":{"x":{"datum":0,"type":"quantitative"},"y":{"field":"term","type":"nominal","sort":null},"text":{"field":"term"}}}
  ]}
 ]}
]}
]}
